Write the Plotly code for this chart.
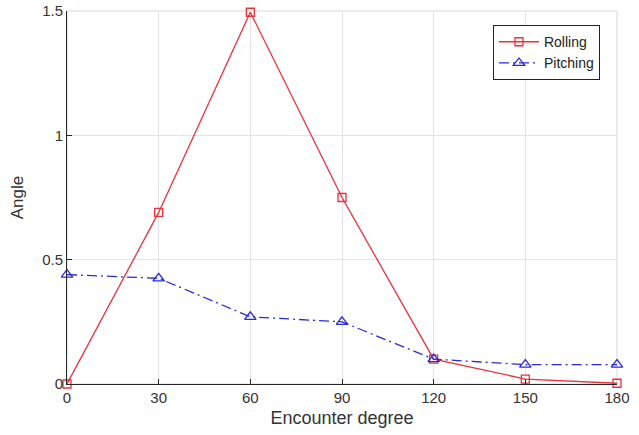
import plotly.graph_objects as go

encounter = [0, 30, 60, 90, 120, 150, 180]
rolling = [0.0, 0.69, 1.495, 0.75, 0.10, 0.02, 0.003]
pitching = [0.44, 0.425, 0.27, 0.25, 0.10, 0.078, 0.078]
x_ticks = [0, 30, 60, 90, 120, 150, 180]
y_ticks = [0, 0.5, 1, 1.5]
y_tick_text = ["0", "0.5", "1", "1.5"]

fig = go.Figure()
fig.add_trace(go.Scatter(
    x=encounter, y=rolling, name="Rolling", mode="lines+markers",
    line=dict(color="#e8323c", width=1.3),
    marker=dict(symbol="square-open", size=8, color="#e8323c", line=dict(width=1.3)),
    cliponaxis=False,
))
fig.add_trace(go.Scatter(
    x=encounter, y=pitching, name="Pitching", mode="lines+markers",
    line=dict(color="#2a2ad8", width=1.3, dash="10px,4px,2px,4px"),
    marker=dict(symbol="triangle-up-open", size=10, color="#2a2ad8", line=dict(width=1.3)),
    cliponaxis=False,
))

fig.add_shape(type="rect", xref="paper", yref="paper", x0=0, y0=0, x1=1, y1=1,
              line=dict(color="#d9d9d9", width=1), layer="below")

fig.update_layout(
    width=639, height=435,
    margin=dict(l=67, r=22, t=11, b=51, autoexpand=False),
    paper_bgcolor="white", plot_bgcolor="white",
    font=dict(family="Liberation Sans, Arial, sans-serif", color="#333333", size=15),
    showlegend=True,
    legend=dict(x=0.969, y=0.962, xanchor="right", yanchor="top",
                bordercolor="#222222", borderwidth=1, bgcolor="white",
                font=dict(size=14, color="#222222"), tracegroupgap=0,
                itemwidth=40),
    xaxis=dict(range=[0, 180], tickvals=x_ticks, ticks="inside", ticklen=5,
               tickcolor="#262626", showline=True, linecolor="#262626", linewidth=1,
               showgrid=True, gridcolor="#e3e3e3", zeroline=False, automargin=False,
               title=dict(text="Encounter degree", font=dict(size=18), standoff=6),
               tickfont=dict(size=15)),
    yaxis=dict(range=[0, 1.5], tickvals=y_ticks, ticktext=y_tick_text, ticks="inside",
               ticklen=5, tickcolor="#262626", showline=True, linecolor="#262626",
               linewidth=1, showgrid=True, gridcolor="#e3e3e3", zeroline=False,
               automargin=False,
               title=dict(text="Angle", font=dict(size=17), standoff=14),
               tickfont=dict(size=15)),
)

fig.write_html("out.html")
